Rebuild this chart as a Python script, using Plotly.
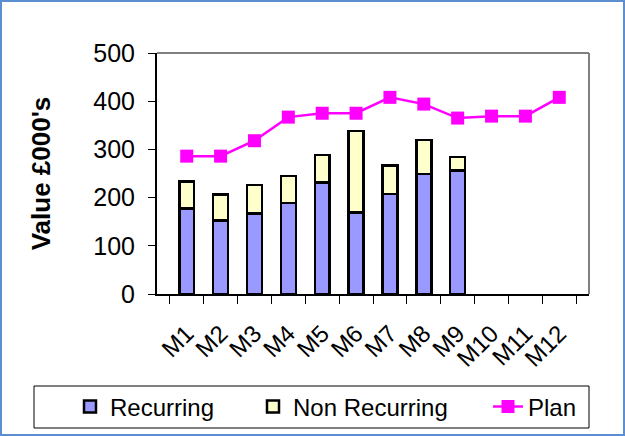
import plotly.graph_objects as go

# --- data ---
months = ["M1", "M2", "M3", "M4", "M5", "M6", "M7", "M8", "M9", "M10", "M11", "M12"]
recurring = [177, 153, 167, 189, 231, 169, 207, 249, 256, None, None, None]
non_recurring = [56, 53, 59, 56, 57, 169, 60, 71, 28, None, None, None]
plan = [286, 286, 318, 367, 375, 375, 408, 394, 365, 369, 369, 408]

FONT = "Liberation Sans, Arial, sans-serif"

fig = go.Figure()

fig.add_trace(go.Bar(x=months, y=recurring, name="Recurring", legend="legend",
                     marker=dict(color="#9999ff", line=dict(color="black", width=2.5))))
fig.add_trace(go.Bar(x=months, y=non_recurring, name="Non Recurring", legend="legend2",
                     marker=dict(color="#ffffcc", line=dict(color="black", width=2.5))))
fig.add_trace(go.Scatter(x=months, y=plan, name="Plan", mode="lines+markers", legend="legend3",
                         line=dict(color="#ff00ff", width=2.5),
                         marker=dict(symbol="square", size=13, color="#ff00ff")))

# plot area: x 157..589, y 53..294 px
L, R, T, B = 157, 589, 53, 294
W, H = R - L, B - T

def px(x):
    return (x - L) / W

def py(y):
    return (B - y) / H

shapes = [
    # gray plot-area border (top and right)
    dict(type="line", xref="paper", yref="paper", x0=0, x1=1, y0=1, y1=1,
         line=dict(color="#808080", width=2)),
    dict(type="line", xref="paper", yref="paper", x0=1, x1=1, y0=0, y1=1,
         line=dict(color="#808080", width=2)),
    # legend box
    dict(type="rect", xref="paper", yref="paper", x0=px(34), x1=px(589),
         y0=py(428), y1=py(386), line=dict(color="black", width=1)),
    # outer frame
    dict(type="rect", xref="paper", yref="paper", x0=px(1), x1=px(624),
         y0=py(435), y1=py(1), line=dict(color="#5b8fd0", width=2)),
]

leg = dict(orientation="h", xanchor="left", y=py(407), yanchor="middle",
           font=dict(size=24), bgcolor="rgba(0,0,0,0)")

fig.update_layout(
    width=625, height=436,
    margin=dict(l=L, r=625 - R, t=T, b=436 - B, autoexpand=False),
    barmode="stack", bargap=0.56,
    plot_bgcolor="white", paper_bgcolor="white",
    font=dict(family=FONT, size=24, color="black"),
    showlegend=True,
    legend=dict(leg, x=px(70)),
    legend2=dict(leg, x=px(253)),
    legend3=dict(leg, x=px(488)),
    shapes=shapes,
)

fig.update_xaxes(type="category", tickangle=-45, showline=True, linecolor="black",
                 linewidth=2, ticks="outside", tickson="boundaries", ticklen=8,
                 tickcolor="black", showgrid=False, tickfont=dict(size=24),
                 ticklabelstandoff=14, automargin=False)
fig.update_yaxes(range=[0, 500], dtick=100, showline=True, linecolor="black",
                 linewidth=2, ticks="outside", ticklen=7, tickcolor="black",
                 showgrid=False, zeroline=False, tickfont=dict(size=25),
                 ticklabelstandoff=8, automargin=False,
                 title=dict(text="<b>Value £000's</b>", font=dict(size=26), standoff=35))

fig.write_html("out.html", config={"displayModeBar": False},
               post_script="document.body.style.margin='0';")
